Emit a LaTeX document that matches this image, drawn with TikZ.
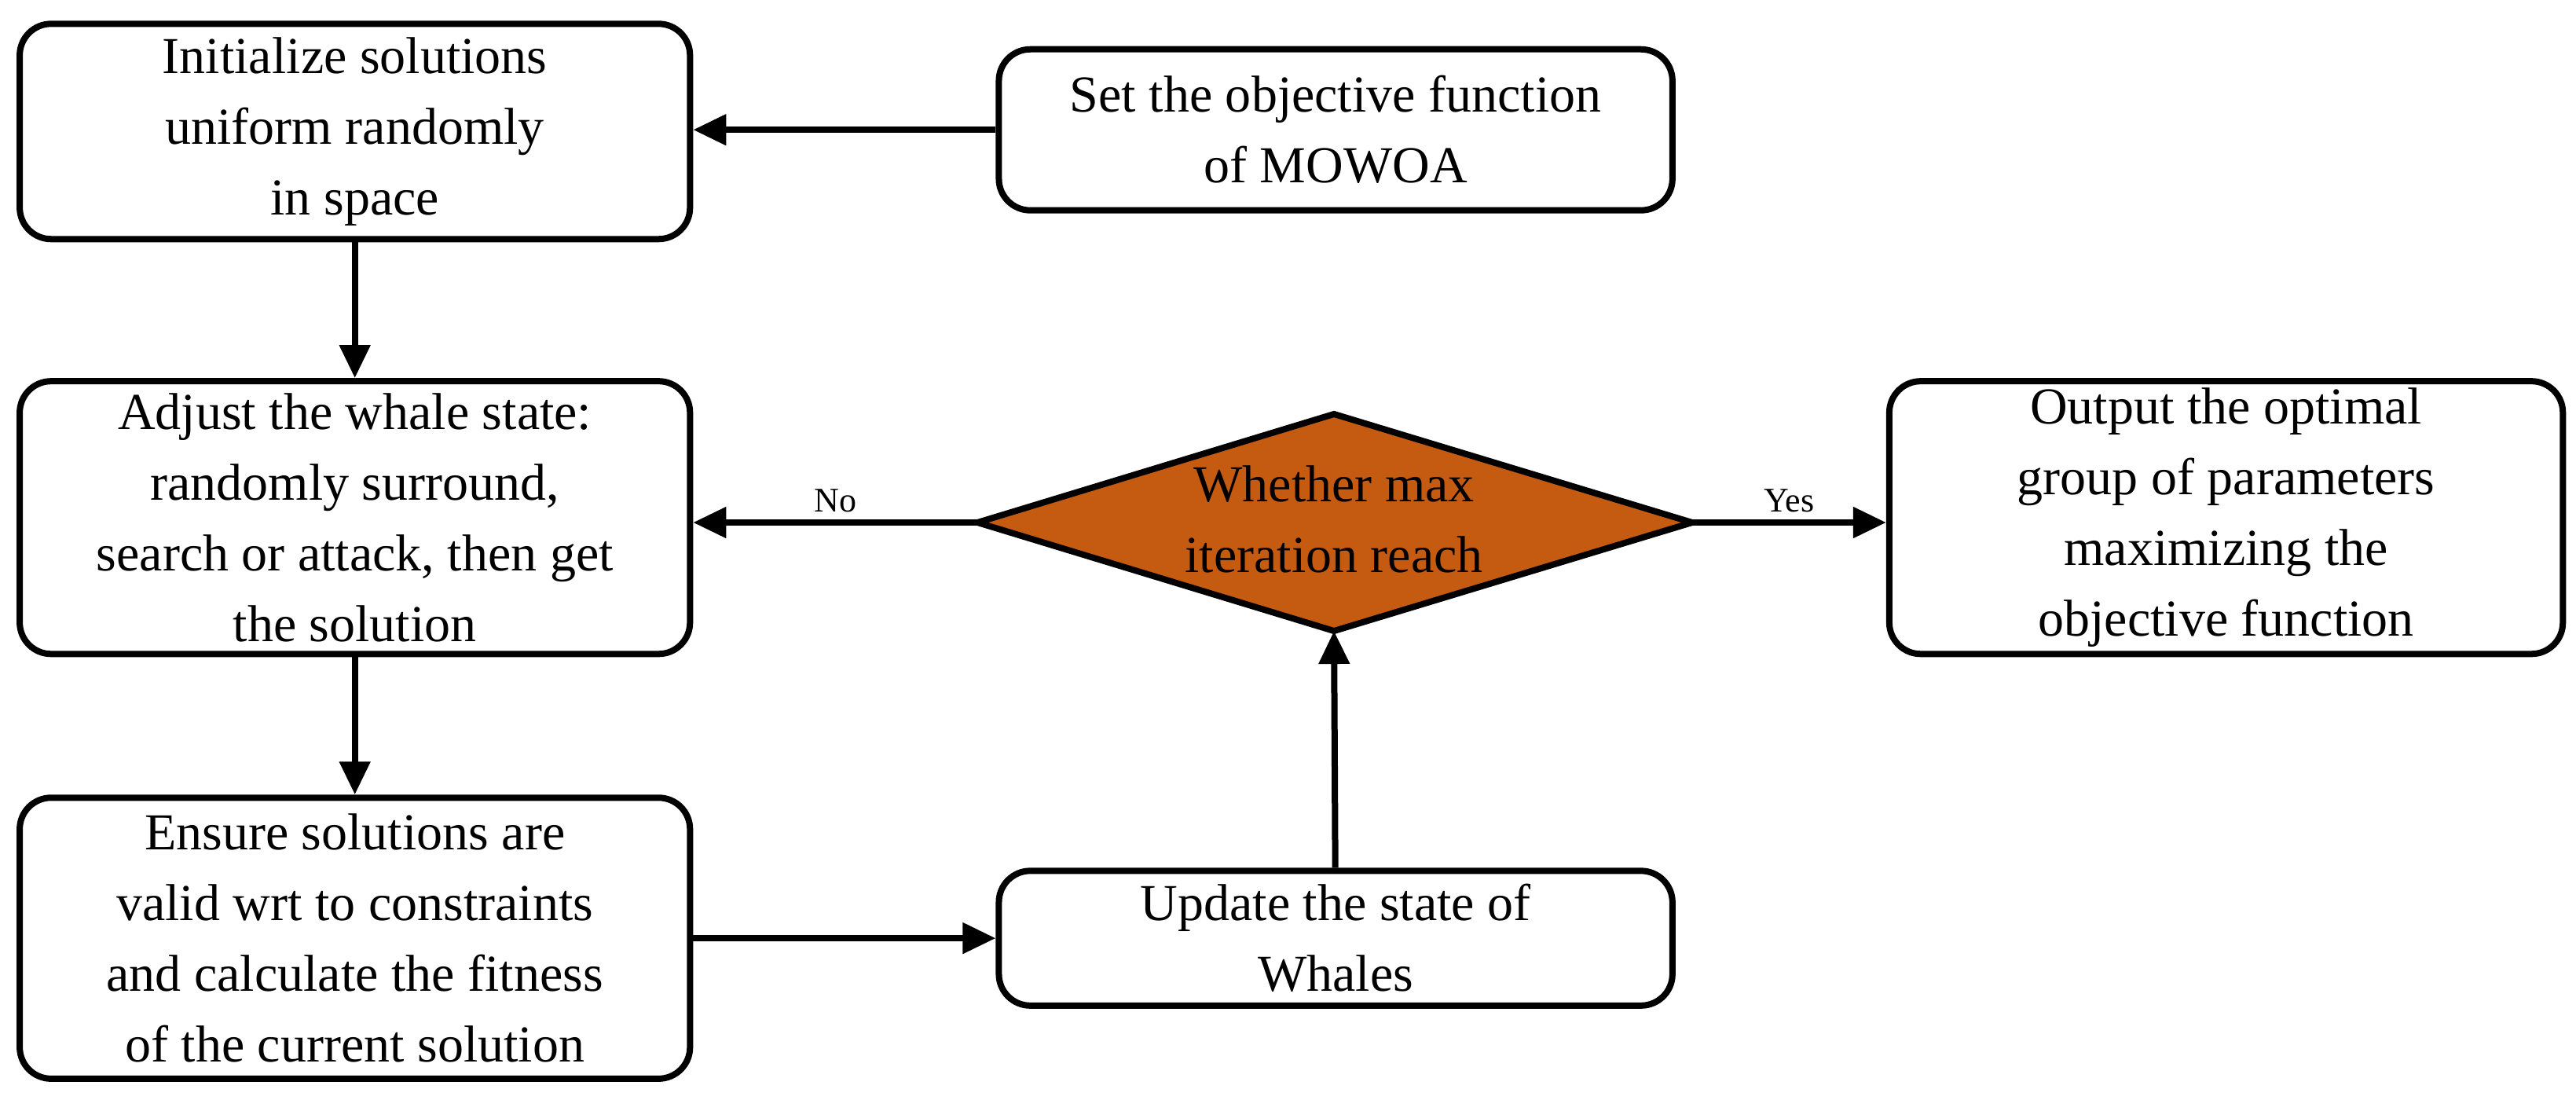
\documentclass[tikz,border=0pt]{standalone}
\usepackage{fontspec}
\setmainfont{Liberation Serif}
\usetikzlibrary{arrows.meta}
\definecolor{dfill}{HTML}{C55A11}
\begin{document}
\begin{tikzpicture}[x=2.091pt,y=-2.091pt,
  box/.style={draw,line width=8pt,rounded corners=40pt,align=center,inner sep=0pt,
    font=\fontsize{66}{90}\selectfont},
  arr/.style={line width=8pt,-{Triangle[length=42pt,width=38pt]}},
  lab/.style={font=\fontsize{44}{50}\selectfont}]
\useasboundingbox (0,0) rectangle (1568,669);
\node[box,minimum width=408*2.091pt,minimum height=131*2.091pt] (b1) at (216,80) {Initialize solutions\\uniform randomly\\in space};
\node[box,minimum width=410*2.091pt,minimum height=98*2.091pt] (b2) at (813,79) {Set the objective function\\of MOWOA};
\node[box,minimum width=408*2.091pt,minimum height=166*2.091pt] (b3) at (216,315) {Adjust the whale state:\\randomly surround,\\search or attack, then get\\the solution};
\node[box,minimum width=410*2.091pt,minimum height=166*2.091pt] (b4) at (1355,315) {Output the optimal\\group of parameters\\maximizing the\\objective function};
\node[box,minimum width=408*2.091pt,minimum height=171*2.091pt] (b5) at (216,571) {Ensure solutions are\\valid wrt to constraints\\and calculate the fitness\\of the current solution};
\node[box,minimum width=410*2.091pt,minimum height=82*2.091pt] (b6) at (813,571) {Update the state of\\Whales};
\coordinate (dl) at (595,318);
\coordinate (dr) at (1030,318);
\coordinate (dt) at (812,252);
\coordinate (db) at (812,384);
\draw[line width=8pt,fill=dfill,line join=miter] (dl) -- (dt) -- (dr) -- (db) -- cycle;
\node[align=center,font=\fontsize{66}{90}\selectfont] (d) at (812,316) {Whether max\\iteration reach};
\draw[arr] (b2.west) -- (b1.east |- b2.west);
\draw[arr] (b1) -- (b3);
\draw[arr] (dl) -- (b3.east |- dl) node[lab,midway,above=6pt] {No};
\draw[arr] (dr) -- (b4.west |- dr) node[lab,midway,above=6pt] {Yes};
\draw[arr] (b3) -- (b5);
\draw[arr] (b5.east) -- (b6.west);
\draw[arr] (b6) -- (db);
\end{tikzpicture}
\end{document}
